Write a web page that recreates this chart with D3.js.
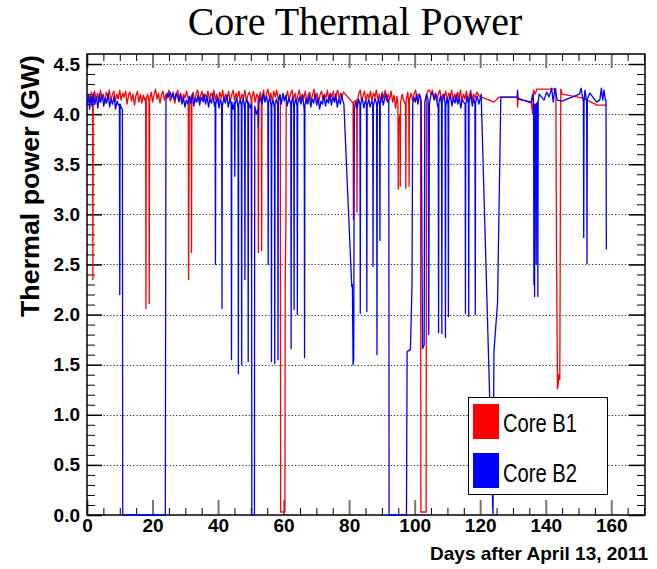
<!DOCTYPE html>
<html>
<head>
<meta charset="utf-8">
<script src="https://cdn.jsdelivr.net/npm/d3@7"></script>
<style>
  body { margin: 0; background: #fff; }
  svg { display: block; }
</style>
</head>
<body>
<svg></svg>
<script>
const width = 657
const height = 569

const title = 'Core Thermal Power'
const xTitle = 'Days after April 13, 2011'
const yTitle = 'Thermal power (GW)'
const seriesNames = ['Core B1', 'Core B2']
const seriesColors = ['#ff0000', '#0000ff']
const xTickValues = [0, 20, 40, 60, 80, 100, 120, 140, 160]
const yTickValues = [0, 0.5, 1, 1.5, 2, 2.5, 3, 3.5, 4, 4.5]

// [day, GW]
const coreB1 = [
  [0.5,4.2],[0.9,4.12],[1.3,4.22],[1.7,4.15],[1.8,2.35],[1.9,4.18],[2.3,4.23],[2.8,4.14],[3.2,4.21],[3.7,4.12],
  [4.1,4.24],[4.6,4.16],[5.0,4.2],[5.5,4.11],[5.9,4.22],[6.4,4.17],[6.8,4.24],[7.3,4.13],[7.7,4.19],[8.2,4.23],
  [8.6,4.12],[9.1,4.2],[9.5,4.15],[10.0,4.24],[10.4,4.14],[10.9,4.21],[11.3,4.17],[11.8,4.23],[12.2,4.1],[12.7,4.19],
  [13.1,4.22],[13.6,4.13],[14.0,4.2],[14.5,4.09],[14.9,4.18],[15.4,4.23],[15.8,4.12],[16.3,4.2],[16.7,4.11],[17.2,4.19],
  [17.6,4.14],[17.9,4.16],[18.0,2.06],[18.1,4.15],[18.5,4.2],[18.9,4.13],[19.0,2.11],[19.1,4.14],[19.6,4.22],[20.0,4.12],
  [20.5,4.2],[20.9,4.25],[21.4,4.15],[21.8,4.21],[22.3,4.11],[22.7,4.19],[23.2,4.23],[23.6,4.14],[24.1,4.2],[24.5,4.16],
  [25.0,4.24],[25.4,4.13],[25.9,4.19],[26.3,4.22],[26.8,4.11],[27.2,4.18],[27.7,4.24],[28.1,4.15],[28.6,4.21],[29.0,4.13],
  [29.5,4.2],[29.9,4.16],[30.4,4.23],[30.9,4.15],[31.0,2.35],[31.2,4.12],[31.8,4.18],[31.9,2.62],[32.0,4.17],[32.4,4.22],
  [32.9,4.12],[33.3,4.2],[33.8,4.24],[34.2,4.14],[34.7,4.19],[35.1,4.23],[35.6,4.12],[36.0,4.2],[36.5,4.16],[36.9,4.23],
  [37.4,4.13],[37.8,4.21],[38.3,4.18],[38.7,4.24],[39.2,4.14],[39.6,4.2],[40.1,4.11],[40.5,4.22],[41.0,4.16],[41.4,4.24],
  [41.9,4.13],[42.3,4.2],[42.8,4.15],[43.2,4.23],[43.7,4.12],[44.1,4.19],[44.6,4.24],[45.0,4.14],[45.5,4.21],[45.9,4.17],
  [46.4,4.23],[46.8,4.12],[47.3,4.2],[47.7,4.16],[48.2,4.24],[48.6,4.13],[49.1,4.19],[49.6,4.22],[50.1,4.15],[50.2,2.55],
  [50.3,4.16],[50.8,4.23],[51.3,4.12],[51.8,4.2],[52.2,4.17],[52.3,2.62],[52.4,4.15],[52.9,4.22],[53.2,4.14],[53.3,2.64],
  [53.4,4.16],[53.9,4.24],[54.3,4.13],[54.8,4.2],[55.2,4.25],[55.7,4.16],[56.1,4.21],[56.6,4.12],[57.0,4.23],[57.5,4.17],
  [57.9,4.24],[58.4,4.14],[58.9,4.2],[59.0,4.18],[59.1,0.03],[60.4,0.03],[60.5,2.35],[60.7,2.93],[60.8,4.17],[61.2,4.23],
  [61.7,4.13],[62.1,4.2],[62.6,4.24],[63.0,4.15],[63.5,4.21],[63.9,4.12],[64.4,4.19],[64.8,4.24],[65.3,4.14],[65.7,4.2],
  [66.2,4.16],[66.6,4.23],[67.1,4.11],[67.5,4.19],[68.0,4.22],[68.4,4.13],[68.9,4.2],[69.3,4.25],[69.8,4.15],[70.2,4.21],
  [70.7,4.12],[71.1,4.19],[71.6,4.23],[72.0,4.14],[72.5,4.2],[72.9,4.16],[73.4,4.24],[73.8,4.13],[74.3,4.21],[74.7,4.17],
  [75.2,4.23],[75.6,4.12],[76.1,4.2],[76.5,4.24],[77.0,4.15],[77.4,4.21],[77.9,4.18],[78.3,4.22],[81.2,4.11],[81.3,2.95],
  [81.4,4.12],[82.3,4.14],[82.4,3.02],[82.5,4.13],[82.9,4.2],[83.4,4.24],[83.8,4.13],[84.3,4.19],[84.7,4.23],[85.2,4.12],
  [85.6,4.2],[86.1,4.16],[86.5,4.23],[87.0,4.13],[87.4,4.21],[87.9,4.17],[88.3,4.24],[88.8,4.14],[89.2,4.2],[89.7,4.12],
  [90.1,4.22],[90.6,4.16],[91.0,4.24],[91.5,4.13],[91.9,4.2],[92.4,4.15],[92.8,4.23],[93.3,4.12],[93.7,4.19],[94.2,4.06],
  [94.6,4.18],[94.9,4.1],[95.0,3.25],[95.1,3.9],[95.5,4.0],[95.6,3.28],[95.7,4.12],[96.2,4.2],[96.6,4.14],[97.2,4.1],
  [97.3,3.26],[97.4,4.13],[97.9,4.22],[98.2,4.1],[98.3,3.28],[98.4,4.15],[98.9,4.21],[99.4,4.13],[99.8,4.2],[100.3,4.24],
  [100.7,4.14],[101.2,4.2],[101.8,4.16],[101.9,0.03],[103.5,0.03],[103.6,4.18],[104.0,4.23],[104.5,4.24],[105.0,4.2],[105.4,4.24],
  [105.9,4.15],[106.3,4.21],[106.8,4.13],[107.2,4.2],[107.7,4.24],[108.1,4.14],[108.6,4.2],[109.0,4.16],[109.5,4.23],[109.9,4.13],
  [110.4,4.21],[110.8,4.17],[111.3,4.24],[111.7,4.14],[112.2,4.2],[112.6,4.12],[113.1,4.22],[113.5,4.16],[114.0,4.24],[114.4,4.13],
  [114.9,4.2],[115.3,4.15],[115.8,4.23],[116.2,4.13],[116.7,4.19],[117.1,4.24],[117.6,4.14],[118.0,4.2],[118.5,4.16],[119.0,4.22],
  [119.7,4.18],[122.0,4.15],[124.2,4.12],[125.8,4.17],[131.3,4.17],[131.4,4.07],[131.6,4.16],[135.6,4.11],[136.0,4.0],[136.3,4.24],
  [136.8,4.2],[137.3,4.25],[143.1,4.25],[143.3,2.56],[143.6,1.26],[143.8,1.3],[144.0,1.4],[144.3,1.35],[144.6,4.25],[145.0,4.2],
  [151.4,4.16],[155.7,4.09],[158.5,4.09]
]

const coreB2 = [
  [0.1,4.1],[0.4,4.2],[0.8,4.05],[1.2,4.18],[1.6,4.08],[2.0,4.21],[2.4,4.1],[2.9,4.17],[3.3,4.06],[3.8,4.2],
  [4.2,4.12],[4.7,4.19],[5.1,4.08],[5.6,4.16],[6.0,4.11],[6.5,4.2],[6.9,4.07],[7.4,4.15],[7.8,4.1],[8.3,4.18],
  [8.7,4.05],[9.2,4.13],[9.6,4.09],[9.9,4.1],[10.0,2.2],[10.1,4.1],[10.5,4.06],[10.8,4.05],[10.9,0],[23.9,0],
  [24.1,4.15],[24.5,4.21],[24.9,4.17],[25.4,4.22],[25.8,4.16],[26.3,4.2],[26.7,4.14],[27.2,4.21],[27.6,4.18],[28.1,4.12],
  [28.5,4.2],[29.0,4.1],[29.4,4.17],[29.9,4.07],[30.3,4.14],[30.8,4.1],[31.2,4.18],[31.7,4.11],[32.1,4.2],[32.6,4.08],
  [33.0,4.16],[33.5,4.12],[33.9,4.19],[34.4,4.09],[34.8,4.17],[35.3,4.13],[35.7,4.2],[36.2,4.1],[36.6,4.18],[37.1,4.07],
  [37.5,4.15],[38.0,4.11],[38.4,4.2],[38.9,4.08],[39.1,4.12],[39.2,2.5],[39.3,4.1],[39.8,4.17],[40.3,4.06],[40.7,4.15],
  [41.1,4.1],[41.2,2.06],[41.3,4.08],[41.8,4.17],[42.2,4.11],[42.7,4.19],[43.1,4.07],[43.6,4.15],[44.0,4.1],[44.1,1.55],
  [44.2,4.12],[44.6,4.05],[45.0,4.12],[45.1,3.38],[45.2,4.1],[45.7,4.17],[46.1,4.06],[46.2,1.41],[46.3,4.1],[46.8,4.14],
  [47.1,4.08],[47.2,1.5],[47.3,4.1],[47.7,4.16],[48.1,4.05],[48.2,2.35],[48.3,4.1],[48.8,4.15],[49.1,4.1],[49.2,1.53],
  [49.3,4.12],[49.8,4.06],[50.2,4.1],[50.3,0],[51.1,0],[51.2,4.08],[51.7,4.0],[52.2,4.05],[52.3,3.87],[52.4,4.1],
  [52.9,4.17],[53.4,4.1],[53.8,4.2],[54.3,4.12],[54.8,4.18],[55.2,4.1],[55.3,2.5],[55.4,4.12],[55.8,4.17],[56.2,4.08],
  [56.3,1.53],[56.4,4.1],[56.8,4.14],[57.2,4.06],[57.3,1.51],[57.4,4.1],[57.8,4.15],[58.2,4.09],[58.3,1.55],[58.4,4.12],
  [58.9,4.19],[59.3,4.1],[59.8,4.21],[60.2,4.13],[60.7,4.19],[61.1,4.08],[61.6,4.16],[62.2,4.1],[62.3,1.66],[62.4,4.12],
  [62.8,4.17],[63.1,4.07],[63.2,2.05],[63.3,4.1],[63.7,4.15],[64.1,4.08],[64.2,2.0],[64.3,4.1],[64.8,4.17],[65.3,4.1],
  [65.8,4.19],[66.3,4.04],[66.4,1.57],[66.5,4.08],[66.9,4.16],[67.4,4.1],[67.8,4.19],[68.3,4.07],[68.7,4.15],[69.2,4.11],
  [69.6,4.2],[70.1,4.09],[70.5,4.16],[71.0,4.05],[71.4,4.13],[71.9,4.1],[72.3,4.19],[72.8,4.08],[73.2,4.15],[73.7,4.11],
  [74.1,4.2],[74.6,4.09],[75.0,4.17],[75.5,4.12],[75.9,4.2],[76.4,4.07],[76.8,4.15],[77.3,4.1],[77.7,4.19],[78.1,4.13],
  [78.4,4.1],[80.8,2.28],[81.0,2.3],[81.2,1.5],[81.4,1.55],[81.6,4.05],[82.0,4.12],[82.5,4.06],[82.9,4.15],[83.3,4.1],
  [83.4,2.01],[83.5,4.1],[84.0,4.16],[84.5,4.06],[84.9,4.13],[85.3,4.1],[85.4,2.03],[85.5,4.08],[86.0,4.15],[86.4,4.07],
  [86.9,4.13],[87.2,4.1],[87.3,2.48],[87.4,4.08],[87.9,4.16],[88.4,4.1],[88.5,1.6],[88.6,4.09],[89.0,4.15],[89.3,4.1],
  [89.4,2.74],[89.5,4.12],[90.0,4.2],[90.4,4.09],[90.9,4.16],[91.3,4.2],[91.8,4.12],[92.1,4.15],[92.2,0],[97.5,0],
  [97.7,1.63],[98.7,1.65],[98.9,1.89],[99.2,2.3],[99.4,4.1],[99.8,4.17],[100.2,4.12],[100.6,4.2],[101.0,4.1],[101.5,4.2],
  [102.0,4.13],[102.4,1.66],[102.9,1.7],[103.1,4.12],[103.6,4.2],[104.1,4.15],[104.3,1.8],[104.5,4.1],[105.0,4.2],[105.5,4.21],
  [106.0,4.14],[106.5,4.2],[107.0,4.08],[107.2,4.1],[107.3,1.82],[107.4,4.12],[107.9,4.18],[108.2,4.1],[108.3,1.81],[108.4,4.12],
  [108.9,4.2],[109.3,4.1],[109.4,1.77],[109.5,4.08],[109.9,4.16],[110.2,4.1],[110.3,1.98],[110.4,4.13],[110.9,4.19],[111.4,4.08],
  [111.8,4.16],[112.3,4.11],[112.7,4.2],[113.2,4.1],[113.6,4.17],[114.1,4.06],[114.5,4.15],[114.9,4.12],[115.4,4.1],[115.5,2.01],
  [115.6,4.1],[116.0,4.18],[116.4,4.1],[116.5,1.98],[116.6,4.12],[117.1,4.2],[117.6,4.08],[118.0,4.16],[118.4,4.1],[118.5,2.0],
  [118.6,4.12],[119.1,4.18],[119.6,4.1],[120.3,4.2],[123.9,0],[124.2,1.63],[125.3,2.12],[126.3,4.17],[131.3,4.17],[131.4,4.24],
  [131.6,4.15],[135.6,4.12],[136.0,4.2],[136.3,4.1],[136.4,2.3],[136.5,4.1],[136.6,2.18],[136.7,4.08],[137.0,4.1],[137.1,2.5],
  [137.2,4.1],[137.5,4.12],[137.6,2.18],[137.7,4.13],[138.0,4.2],[139.5,4.14],[140.3,4.22],[141.0,4.17],[141.8,4.26],[142.3,4.12],
  [142.8,4.26],[143.5,4.14],[145.0,4.13],[150.3,4.2],[150.8,4.26],[151.4,4.14],[151.5,4.12],[151.6,2.77],[151.7,4.13],[152.0,4.24],
  [152.4,4.14],[152.5,4.12],[152.6,2.51],[152.7,4.15],[153.5,4.21],[155.5,4.12],[156.5,4.14],[157.0,4.26],[157.4,4.14],[157.8,4.24],
  [158.2,4.14],[158.4,4.14],[158.5,2.65]
]

const frame = { left: 87, right: 645, top: 54, bottom: 515 }

const svg = d3.select('svg').attr('width', width).attr('height', height)
  .style('font-family', '"Liberation Sans", Arial, sans-serif')

svg.append('rect').attr('width', width).attr('height', height).attr('fill', '#fff')

const x = d3.scaleLinear().domain([0, 170.3]).range([frame.left, frame.right])
const y = d3.scaleLinear().domain([0, 4.6]).range([frame.bottom, frame.top])

// dotted horizontal grid
svg.append('g')
  .selectAll('line')
  .data(yTickValues.filter((d) => d > 0))
  .enter()
  .append('line')
  .attr('x1', frame.left)
  .attr('x2', frame.right)
  .attr('y1', (d) => Math.round(y(d)) + 0.5)
  .attr('y2', (d) => Math.round(y(d)) + 0.5)
  .attr('stroke', '#333')
  .attr('stroke-width', 1)
  .attr('stroke-dasharray', '1.3,2')

// axes, ROOT style: ticks on all four sides pointing inward
const xMinor = d3.range(0, 171, 5).filter((d) => d % 20 !== 0)
const yMinor = d3.range(0, 46).map((d) => d / 10).filter((d) => Math.round(d * 10) % 5 !== 0)

const styleAxis = (g) => {
  g.select('.domain').remove()
  g.selectAll('text')
    .attr('fill', '#000')
    .style('font-size', '19px')
    .style('font-weight', 'bold')
}

svg.append('g').attr('transform', `translate(0,${frame.bottom})`)
  .call(d3.axisBottom(x).tickValues(xMinor).tickSize(-7).tickFormat(''))
  .call(styleAxis)
svg.append('g').attr('transform', `translate(0,${frame.bottom})`)
  .call(d3.axisBottom(x).tickValues(xTickValues).tickSize(-15).tickPadding(4).tickFormat(d3.format('d')))
  .call(styleAxis)
  .call((g) => g.selectAll('.tick line').attr('stroke', '#777').attr('stroke-width', 2))
svg.append('g').attr('transform', `translate(0,${frame.top})`)
  .call(d3.axisTop(x).tickValues(xMinor).tickSize(-7).tickFormat(''))
  .call(styleAxis)
svg.append('g').attr('transform', `translate(0,${frame.top})`)
  .call(d3.axisTop(x).tickValues(xTickValues).tickSize(-14).tickFormat(''))
  .call(styleAxis)
  .call((g) => g.selectAll('.tick line').attr('stroke', '#777').attr('stroke-width', 2))

svg.append('g').attr('transform', `translate(${frame.left},0)`)
  .call(d3.axisLeft(y).tickValues(yMinor).tickSize(-8).tickFormat(''))
  .call(styleAxis)
svg.append('g').attr('transform', `translate(${frame.left},0)`)
  .call(d3.axisLeft(y).tickValues(yTickValues).tickSize(-15).tickPadding(7).tickFormat(d3.format('.1f')))
  .call(styleAxis)
  .call((g) => g.selectAll('.tick line').attr('stroke-width', 1.5))
svg.append('g').attr('transform', `translate(${frame.right},0)`)
  .call(d3.axisRight(y).tickValues(yMinor).tickSize(-8).tickFormat(''))
  .call(styleAxis)
svg.append('g').attr('transform', `translate(${frame.right},0)`)
  .call(d3.axisRight(y).tickValues(yTickValues).tickSize(-16).tickFormat(''))
  .call(styleAxis)
  .call((g) => g.selectAll('.tick line').attr('stroke-width', 1.5))

// frame
svg.append('rect')
  .attr('x', frame.left).attr('y', frame.top)
  .attr('width', frame.right - frame.left).attr('height', frame.bottom - frame.top)
  .attr('fill', 'none').attr('stroke', '#000').attr('stroke-width', 1.5)

// data, drawn over the frame so the zero plateaus stay visible on the axis
svg.append('clipPath').attr('id', 'plot-clip')
  .append('rect')
  .attr('x', frame.left).attr('y', frame.top)
  .attr('width', frame.right - frame.left).attr('height', frame.bottom - frame.top + 1)

const line = d3.line().x((d) => x(d[0])).y((d) => y(d[1]))
const dataGroup = svg.append('g').attr('clip-path', 'url(#plot-clip)')
;[coreB1, coreB2].forEach((series, i) => {
  dataGroup.append('path')
    .datum(series)
    .attr('d', line)
    .attr('fill', 'none')
    .attr('stroke', seriesColors[i])
    .attr('stroke-width', 1.3)
    .attr('stroke-linejoin', 'round')
})

// titles
svg.append('text')
  .attr('x', 355).attr('y', 35)
  .attr('text-anchor', 'middle')
  .style('font-family', '"Liberation Serif", "Times New Roman", serif')
  .style('font-size', '40px')
  .text(title)

svg.append('text')
  .attr('x', 648).attr('y', 560)
  .attr('text-anchor', 'end')
  .style('font-size', '19px').style('font-weight', 'bold')
  .text(xTitle)

svg.append('text')
  .attr('transform', 'translate(39,55) rotate(-90)')
  .attr('text-anchor', 'end')
  .attr('textLength', 262).attr('lengthAdjust', 'spacingAndGlyphs')
  .style('font-size', '26px').style('font-weight', 'bold')
  .text(yTitle)

// legend
const legend = svg.append('g')
legend.append('rect')
  .attr('x', 468.5).attr('y', 397.5).attr('width', 139).attr('height', 97)
  .attr('fill', '#fff').attr('stroke', '#000').attr('stroke-width', 1)
seriesNames.forEach((name, i) => {
  legend.append('rect')
    .attr('x', 473).attr('y', 404 + i * 49).attr('width', 26).attr('height', 35)
    .attr('fill', seriesColors[i])
  legend.append('text')
    .attr('x', 503).attr('y', 432 + i * 49.5)
    .attr('textLength', 74).attr('lengthAdjust', 'spacingAndGlyphs')
    .style('font-size', '26px')
    .text(name)
})
</script>
</body>
</html>
